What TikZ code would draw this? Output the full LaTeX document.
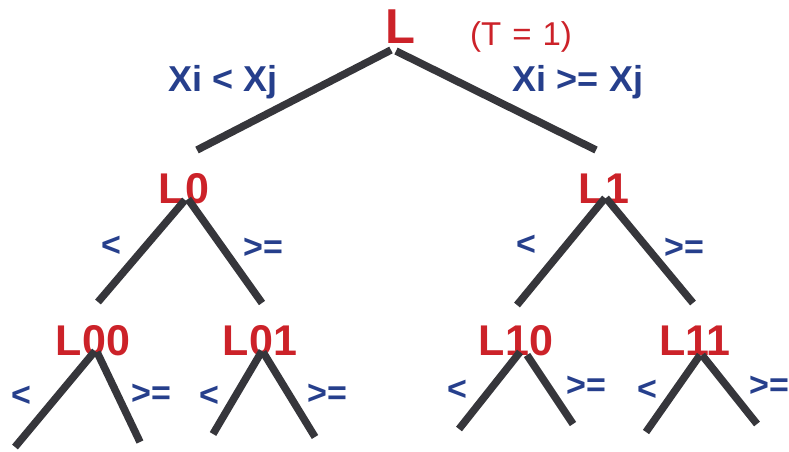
\documentclass[tikz,border=0pt]{standalone}
\usepackage{fontspec}
\setmainfont{Liberation Sans}
\definecolor{nodered}{HTML}{CC2229}
\definecolor{lblblue}{HTML}{263F8C}
\definecolor{branch}{HTML}{36363B}
\tikzset{
  big/.style={text=nodered, inner sep=0pt, anchor=base, font=\fontsize{43}{43}\selectfont\bfseries},
  root/.style={text=nodered, inner sep=0pt, anchor=base, font=\fontsize{49}{49}\selectfont\bfseries},
  cond/.style={text=lblblue, inner sep=0pt, anchor=base, font=\fontsize{36}{36}\selectfont\bfseries},
  cmp/.style={text=lblblue, inner sep=0pt, font=\fontsize{34}{34}\selectfont\bfseries},
  edge/.style={draw=branch, line width=7.5pt}
}
\begin{document}
\begin{tikzpicture}[x=1pt,y=-1pt]
\useasboundingbox (0,0) rectangle (789,451);
% nodes
\node[root] (L) at (400,43) {L};
\node[text=nodered, inner sep=0pt, font=\fontsize{33}{33}\selectfont] (T) at (521,37) {(T\,\,=\,\,1)};
\node[cond] (c1) at (223,91) {Xi < Xj};
\node[cond] (c2) at (578,91) {Xi >= Xj};
\node[big] (L0) at (184,203) {L0};
\node[big] (L1) at (604,203) {L1};
\node[big] (L00) at (93,355) {L00};
\node[big] (L01) at (260,355) {L01};
\node[big] (L10) at (516,355) {L10};
\node[big] (L11) at (695,355) {L11};
% comparison labels
\node[cmp] (L0lt) at (111,246) {<};
\node[cmp] (L0ge) at (263,248) {>=};
\node[cmp] (L1lt) at (526,245) {<};
\node[cmp] (L1ge) at (684,248) {>=};
\node[cmp] (L00lt) at (21,396) {<};
\node[cmp] (L00ge) at (151,394) {>=};
\node[cmp] (L01lt) at (209,396) {<};
\node[cmp] (L01ge) at (327,394) {>=};
\node[cmp] (L10lt) at (457,390) {<};
\node[cmp] (L10ge) at (586,386) {>=};
\node[cmp] (L11lt) at (647,390) {<};
\node[cmp] (L11ge) at (769,386) {>=};
% branch end points
\coordinate (Ls1) at (391,50);  \coordinate (Le1) at (197,150);
\coordinate (Ls2) at (396,51);  \coordinate (Le2) at (596,150);
\coordinate (L0s1) at (185,200); \coordinate (L0e1) at (98,302);
\coordinate (L0s2) at (188,199); \coordinate (L0e2) at (262,303);
\coordinate (L1s1) at (605,198); \coordinate (L1e1) at (517,305);
\coordinate (L1s2) at (606,198); \coordinate (L1e2) at (693,303);
\coordinate (L00s1) at (95,351); \coordinate (L00e1) at (15,447);
\coordinate (L00s2) at (97,352); \coordinate (L00e2) at (140,442);
\coordinate (L01s1) at (262,351); \coordinate (L01e1) at (213,434);
\coordinate (L01s2) at (263,352); \coordinate (L01e2) at (315,437);
\coordinate (L10s1) at (520,352); \coordinate (L10e1) at (459,429);
\coordinate (L10s2) at (527,355); \coordinate (L10e2) at (573,424);
\coordinate (L11s1) at (700,355); \coordinate (L11e1) at (646,432);
\coordinate (L11s2) at (702,355); \coordinate (L11e2) at (757,424);
% branches
\foreach \n in {L,L0,L1,L00,L01,L10,L11}{
  \draw[edge] (\n s1) -- (\n e1);
  \draw[edge] (\n s2) -- (\n e2);
}
\end{tikzpicture}
\end{document}
